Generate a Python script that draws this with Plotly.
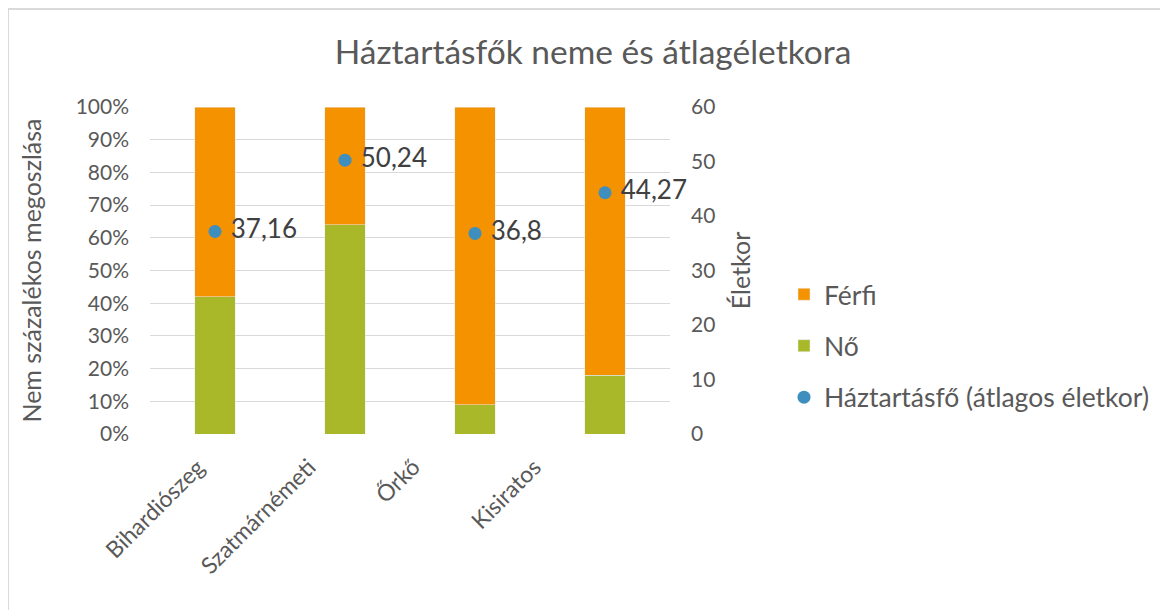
import plotly.graph_objects as go

categories = ["Bihardiószeg", "Szatmárnémeti", "Őrkő", "Kisiratos"]
no_share = [0.42, 0.64, 0.09, 0.18]
ferfi_share = [0.58, 0.36, 0.91, 0.82]
avg_age = [37.16, 50.24, 36.8, 44.27]
pct_ticks = [0, 0.1, 0.2, 0.3, 0.4, 0.5, 0.6, 0.7, 0.8, 0.9, 1.0]
pct_labels = ["0%", "10%", "20%", "30%", "40%", "50%", "60%", "70%", "80%", "90%", "100%"]
age_ticks = [0, 10, 20, 30, 40, 50, 60]

# label layout offsets (px) for rotated category labels, Excel-like placement
label_xshift = [-4, -23, -48, -57]

FONT = "Lato, Open Sans, sans-serif"
GREY = "#595959"
ORANGE = "#F59200"
GREEN = "#A8B828"
BLUE = "#3E8EBE"

OFF = 8  # page body margin
L, R, T, B = 150 - OFF, 670 - OFF, 107 - OFF, 434 - OFF
PW, PH = R - L, B - T

fig = go.Figure()
fig.add_trace(go.Bar(x=categories, y=no_share, name="Nő", marker=dict(color=GREEN),
                     width=0.31, legendrank=2, legendgroup="g2"))
fig.add_trace(go.Bar(x=categories, y=ferfi_share, name="Férfi", marker=dict(color=ORANGE),
                     width=0.31, legendrank=1, legendgroup="g1"))
fig.add_trace(go.Scatter(x=categories, y=avg_age, yaxis="y2", mode="markers+text",
                         name="Háztartásfő (átlagos életkor)",
                         marker=dict(color=BLUE, size=13),
                         text=[" " + str(v).replace(".", ",") for v in avg_age],
                         textposition="middle right",
                         textfont=dict(size=26, color="#404040", family=FONT),
                         cliponaxis=False, legendrank=3, legendgroup="g3"))

annotations = [dict(x=c, y=0, xref="x", yref="paper", text=c, showarrow=False,
                    textangle=-45, xanchor="right", yanchor="top", borderpad=0,
                    xshift=s, yshift=-17, font=dict(size=23, color=GREY, family=FONT))
               for c, s in zip(categories, label_xshift)]

fig.update_layout(
    width=1168, height=610,
    margin=dict(l=L, r=1168 - R, t=T, b=610 - B, autoexpand=False),
    paper_bgcolor="white", plot_bgcolor="white",
    barmode="stack", bargap=0.69,
    font=dict(family=FONT, color=GREY, size=21),
    title=dict(text="Háztartásfők neme és átlagéletkora", x=(593 - OFF - L) / PW, xref="paper",
               xanchor="center", y=1 - (52 - OFF) / 610, yanchor="middle",
               font=dict(size=33.5, color=GREY, family=FONT)),
    xaxis=dict(range=[-0.5, len(categories) - 0.5], showgrid=False, showline=False, ticks="",
               showticklabels=False, automargin=False),
    yaxis=dict(range=[0, 1], tickvals=pct_ticks, ticktext=pct_labels, automargin=False,
               gridcolor="#D9D9D9", gridwidth=1, zeroline=False, showline=False, ticks="",
               ticklabelstandoff=20, tickfont=dict(size=21, color=GREY),
               title=dict(text="Nem százalékos megoszlása", font=dict(size=25, color=GREY), standoff=26)),
    yaxis2=dict(range=[0, 60], tickvals=age_ticks, overlaying="y", side="right", automargin=False,
                showgrid=False, zeroline=False, showline=False, ticks="",
                ticklabelstandoff=20, tickfont=dict(size=21, color=GREY),
                title=dict(text="Életkor", font=dict(size=25, color=GREY), standoff=18)),
    legend=dict(x=(784 - OFF - L) / PW, xanchor="left", y=1 - (346 - 107) / 327, yanchor="middle",
                traceorder="grouped", font=dict(size=26.5, color=GREY), tracegroupgap=14, itemwidth=30),
    showlegend=True,
    annotations=annotations,
    shapes=[dict(type="rect", xref="paper", yref="paper",
                 x0=(0 - L) / PW, x1=(1250 - L) / PW, y0=-(700 - B) / PH, y1=1 + (T - 1) / PH,
                 line=dict(color="#D9D9D9", width=2), fillcolor="rgba(0,0,0,0)", layer="below")],
)

fig.write_html("out.html")
